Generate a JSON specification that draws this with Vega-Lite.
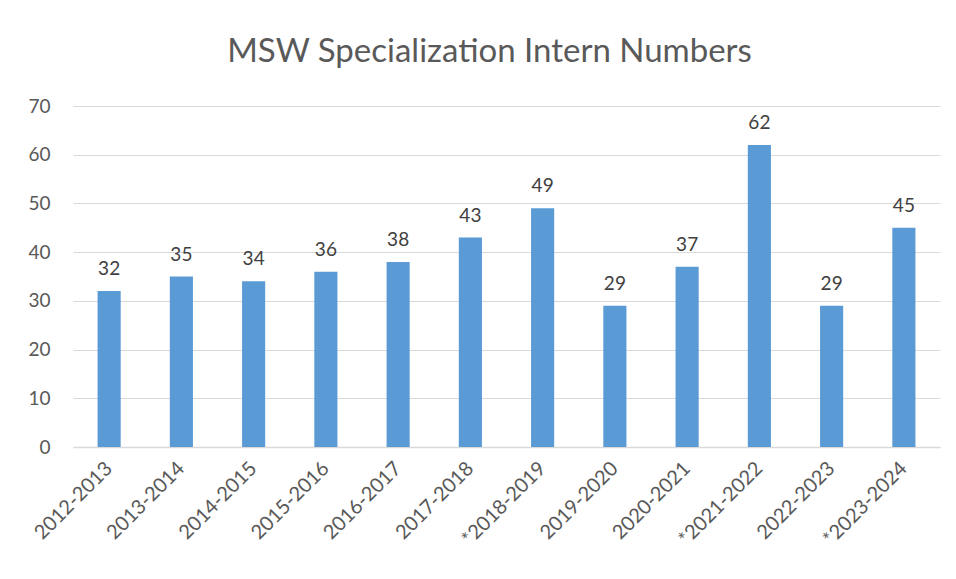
{
  "$schema": "https://vega.github.io/schema/vega-lite/v6.json",
  "width": 867,
  "height": 341,
  "autosize": {"type": "none"},
  "padding": {"left": 73, "top": 106, "right": 16, "bottom": 132},
  "background": "white",
  "title": {
    "text": "MSW Specialization Intern Numbers",
    "font": "Lato",
    "fontSize": 33,
    "fontWeight": "normal",
    "color": "#595959",
    "anchor": "middle",
    "dx": -17,
    "offset": 28
  },
  "data": {
    "values": [
      {"year": "2012-2013", "count": 32},
      {"year": "2013-2014", "count": 35},
      {"year": "2014-2015", "count": 34},
      {"year": "2015-2016", "count": 36},
      {"year": "2016-2017", "count": 38},
      {"year": "2017-2018", "count": 43},
      {"year": "*2018-2019", "count": 49},
      {"year": "2019-2020", "count": 29},
      {"year": "2020-2021", "count": 37},
      {"year": "*2021-2022", "count": 62},
      {"year": "2022-2023", "count": 29},
      {"year": "*2023-2024", "count": 45}
    ]
  },
  "encoding": {
    "x": {
      "field": "year",
      "type": "nominal",
      "sort": null,
      "title": null,
      "scale": {"paddingInner": 0.68, "paddingOuter": 0.34},
      "axis": {
        "labelAngle": -45,
        "labelAlign": "right",
        "labelBaseline": "middle",
        "labelFont": "Lato",
        "labelFontSize": 20,
        "labelColor": "#595959",
        "labelPadding": 18,
        "ticks": false,
        "domainColor": "#d9d9d9",
        "domainWidth": 1.5
      }
    },
    "y": {
      "field": "count",
      "type": "quantitative",
      "title": null,
      "scale": {"domain": [0, 70]},
      "axis": {
        "values": [0, 10, 20, 30, 40, 50, 60, 70],
        "labelFont": "Lato",
        "labelFontSize": 19,
        "labelColor": "#595959",
        "labelPadding": 23,
        "ticks": false,
        "domain": false,
        "gridColor": "#d9d9d9",
        "gridWidth": 1
      }
    }
  },
  "layer": [
    {"mark": {"type": "bar", "color": "#5b9bd5"}},
    {
      "mark": {"type": "text", "baseline": "bottom", "dy": -12, "font": "Lato", "fontSize": 19, "color": "#404040"},
      "encoding": {"text": {"field": "count", "type": "quantitative"}}
    }
  ],
  "config": {"view": {"stroke": null}}
}
